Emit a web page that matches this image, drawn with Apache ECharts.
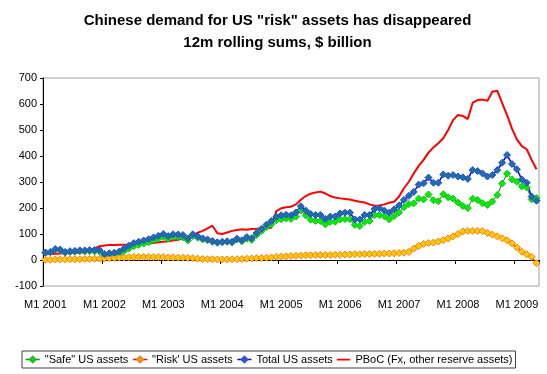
<!DOCTYPE html>
<html>
<head>
<meta charset="utf-8">
<script src="https://cdn.jsdelivr.net/npm/echarts@6/dist/echarts.min.js"></script>
<style>
html,body{margin:0;padding:0;background:#fff;}
#chart{width:547px;height:374px;}
</style>
</head>
<body>
<div id="chart"></div>
<script>
// Categories: monthly, M1 2001 .. M5 2009
const months = [];
for (let y = 2001; y <= 2009; y++) {
  for (let m = 1; m <= 12; m++) {
    if (y === 2009 && m > 5) break;
    months.push('M' + m + ' ' + y);
  }
}

const seriesNames = ['"Safe" US assets', '"Risk\' US assets', 'Total US assets', 'PBoC (Fx, other reserve assets)'];

const safeAssets = [
  28,30,40,38,29,31,32,34,33,34,33,33,
  17,19,20,23,34,44,53,58,63,68,76,82,
  89,82,89,89,87,75,92,86,79,76,70,66,
  68,70,67,79,72,82,77,96,111,126,138,153,
  157,160,158,167,190,171,155,150,150,137,147,147,
  156,157,157,135,131,147,150,173,173,168,156,169,
  183,203,215,218,236,233,252,230,226,253,241,236,
  221,208,200,236,231,218,212,225,250,294,332,310,
  301,283,279,233,238
];

const riskAssets = [
  1,1,2,2,2,3,3,3,4,4,5,5,
  6,7,8,9,10,11,12,12,12,12,11,11,
  11,10,10,9,9,8,7,5,4,3,3,2,
  2,2,3,3,4,5,6,7,8,9,10,12,
  13,14,15,16,17,18,18,19,19,19,19,20,
  20,21,21,22,22,23,23,24,24,25,25,26,
  27,28,31,44,54,62,65,67,71,76,83,91,
  100,110,112,112,112,111,104,98,91,84,76,64,
  48,32,22,12,-12
];

const totalAssets = [
  29,31,42,40,31,34,35,37,37,38,38,38,
  23,26,28,32,44,55,65,70,75,80,87,93,
  100,92,99,98,96,83,99,91,83,79,73,68,
  70,72,70,82,76,88,84,104,120,136,150,166,
  172,174,172,183,207,190,177,173,173,158,167,167,
  179,182,182,156,156,173,173,196,199,190,182,195,
  210,231,247,262,290,295,317,297,297,329,324,327,
  321,318,312,346,342,333,321,327,346,374,404,369,
  349,310,297,244,228
];

const pbocReserves = [
  22,23,24,25,26,26,27,28,30,35,45,53,
  56,58,58,59,59,59,60,60,61,63,65,68,
  70,72,75,78,83,88,96,105,112,122,132,103,
  100,106,112,115,118,116,119,120,122,122,124,188,
  199,203,205,214,232,246,255,260,263,256,246,240,
  237,235,233,228,224,221,214,209,210,214,220,224,
  244,276,301,333,362,385,413,433,449,468,500,538,
  558,554,542,605,615,617,612,647,651,603,557,505,
  464,438,426,385,349
];

const yTicks = {min: -100, max: 700, interval: 100};

const FONT = 'Arial, "Liberation Sans", sans-serif';
const chart = echarts.init(document.getElementById('chart'), null, {renderer: 'canvas'});

const yearTick = (i) => i % 12 === 0;
// plain line icon for the PBoC legend entry (invisible end points keep the box height)
const lineIcon = 'path://M0,0L0.01,0M0,3L15,3L15,5L0,5ZM0,8L0.01,8';

chart.setOption({
  animation: false,
  backgroundColor: '#ffffff',
  title: {
    text: 'Chinese demand for US "risk" assets has disappeared\n12m rolling sums, $ billion',
    left: 272.5,
    textAlign: 'center',
    top: 5,
    textStyle: {fontSize: 15, fontWeight: 'bold', lineHeight: 22, color: '#000', fontFamily: FONT}
  },
  grid: {
    left: 43, right: 8, top: 78, bottom: 88,
    show: true, borderColor: '#a0a0a0', borderWidth: 1, containLabel: false
  },
  legend: {
    left: 22, top: 351,
    width: 520,
    itemWidth: 14, itemHeight: 7, itemGap: 4,
    padding: [3, 3, 3, 3],
    borderColor: '#404040', borderWidth: 1,
    textStyle: {fontSize: 11, color: '#000', fontFamily: FONT},
    data: [
      {name: seriesNames[0], lineStyle: {color: '#009900', width: 1.5}},
      {name: seriesNames[1], lineStyle: {color: '#ff0000', width: 1.5}},
      {name: seriesNames[2], lineStyle: {color: '#0000ff', width: 1.5}},
      {name: seriesNames[3], icon: lineIcon, itemStyle: {color: '#ff0000', borderWidth: 0, opacity: 1}}
    ]
  },
  xAxis: [
    {
      type: 'category', data: months, boundaryGap: true,
      axisLine: {onZero: true, lineStyle: {color: '#000', width: 1}},
      axisTick: {show: true, interval: yearTick, length: 4, inside: false, lineStyle: {color: '#000'}},
      axisLabel: {show: false},
      splitLine: {show: false}
    },
    {
      type: 'category', data: months, boundaryGap: true, position: 'bottom',
      axisLine: {show: false, onZero: false},
      axisTick: {show: false},
      axisLabel: {interval: yearTick, margin: 13, fontSize: 11, color: '#000', fontFamily: FONT},
      splitLine: {show: false}
    }
  ],
  yAxis: {
    type: 'value', min: yTicks.min, max: yTicks.max, interval: yTicks.interval,
    axisLine: {show: true, lineStyle: {color: '#000'}},
    axisTick: {show: true, length: 3, lineStyle: {color: '#000'}},
    axisLabel: {margin: 6, fontSize: 11, color: '#000', fontFamily: FONT},
    splitLine: {show: false}
  },
  series: [
    {
      name: seriesNames[0], type: 'line', data: safeAssets, xAxisIndex: 0,
      symbol: 'diamond', symbolSize: 7, showAllSymbol: true,
      lineStyle: {color: '#009900', width: 1},
      itemStyle: {color: '#00ee00', borderColor: '#22bb22', borderWidth: 1}
    },
    {
      name: seriesNames[1], type: 'line', data: riskAssets, xAxisIndex: 0,
      symbol: 'diamond', symbolSize: 7, showAllSymbol: true,
      lineStyle: {color: '#ff0000', width: 1},
      itemStyle: {color: '#ffcc00', borderColor: '#ff7a1a', borderWidth: 1}
    },
    {
      name: seriesNames[2], type: 'line', data: totalAssets, xAxisIndex: 0,
      symbol: 'diamond', symbolSize: 7, showAllSymbol: true,
      lineStyle: {color: '#0000ff', width: 1.5},
      itemStyle: {color: '#1f6f9f', borderColor: '#2a4fe0', borderWidth: 1}
    },
    {
      name: seriesNames[3], type: 'line', data: pbocReserves, xAxisIndex: 0,
      symbol: 'none', showSymbol: false,
      lineStyle: {color: '#ff0000', width: 2},
      itemStyle: {color: '#ff0000'}
    }
  ]
});
</script>
</body>
</html>
